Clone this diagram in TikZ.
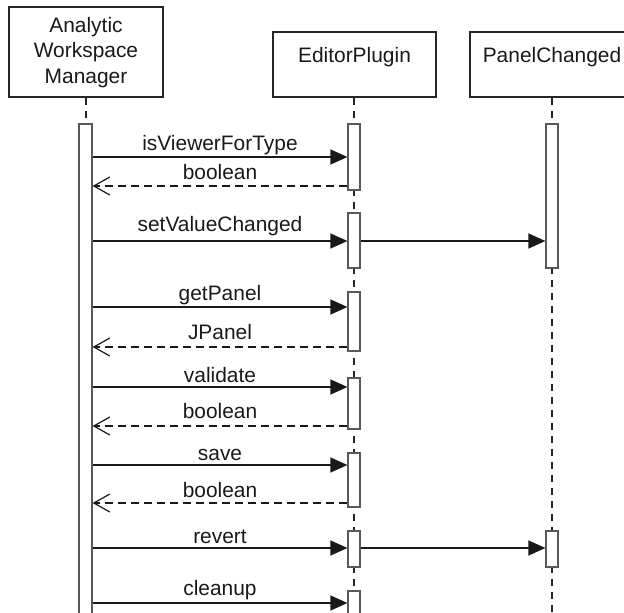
\documentclass[tikz,border=0pt]{standalone}
\usepackage{fontspec}
\setmainfont{Liberation Sans}
\usetikzlibrary{arrows.meta}
\newcommand\actbar[5]{\node[actbox, minimum width=#3bp, minimum height={(#5-#4)*1bp}] (#1) at (#2,{(#4+#5)/2}) {};}
\begin{document}
\begin{tikzpicture}[x=1bp,y=-1bp,
  font=\fontsize{21}{25.5}\selectfont,
  headbox/.style={draw=black!85, line width=1.2bp, fill=white, inner sep=0, rectangle},
  lifeline/.style={draw=black!85, dash pattern=on 7bp off 6bp, line width=1.2bp},
  actbox/.style={draw=black!65, fill=white, line width=1.2bp, inner sep=0, rectangle},
  callarrow/.style={draw=black!90, line width=1.3bp, -{Triangle[length=17bp,width=15bp]}},
  retarrow/.style={draw=black!90, line width=1.2bp, dash pattern=on 8bp off 5bp, -{Straight Barb[length=16bp,width=18bp]}},
  lbl/.style={anchor=base, text=black!90, inner sep=0}]
\useasboundingbox (0,0) rectangle (624,613);
% heads
\node[headbox, minimum width=154bp, minimum height=90bp] (awm) at (86,52) {};
\node[text=black!90, align=center, inner sep=0] (awmtxt) at (86,52.5) {Analytic\\Workspace\\Manager};
\node[headbox, minimum width=163bp, minimum height=65bp] (ep) at (354.5,64.5) {};
\node[lbl] (eptxt) at (354.5,63) {EditorPlugin};
\node[headbox, minimum width=164bp, minimum height=65bp] (pc) at (552,64.5) {};
\node[lbl] (pctxt) at (552,63) {PanelChanged};
% lifeline ends
\coordinate (awmtop) at (86,124);
\coordinate (epbot) at (354,640);
\coordinate (pcbot) at (552,640);
\draw[lifeline] (awm.south -| awmtop) -- (awmtop);
\draw[lifeline] (ep.south -| epbot) -- (epbot);
\draw[lifeline] (pc.south -| pcbot) -- (pcbot);
% activations
\actbar{awmact}{85.5}{13}{124}{640}
\actbar{epa}{354}{12}{124}{190}
\actbar{epb}{354}{12}{213}{268}
\actbar{epc}{354}{12}{292}{351}
\actbar{epd}{354}{12}{378}{429}
\actbar{epe}{354}{12}{453}{507}
\actbar{epf}{354}{12}{531}{567}
\actbar{epg}{354}{12}{591}{640}
\actbar{pca}{552}{12}{124}{268}
\actbar{pcb}{552}{12}{531}{567}
% message levels
\coordinate (y1) at (0,157);
\coordinate (y2) at (0,186);
\coordinate (y3) at (0,241);
\coordinate (y4) at (0,307);
\coordinate (y5) at (0,347);
\coordinate (y6) at (0,387);
\coordinate (y7) at (0,426);
\coordinate (y8) at (0,465);
\coordinate (y9) at (0,503);
\coordinate (y10) at (0,548);
\coordinate (y11) at (0,603);
% messages
\draw[callarrow] (awmact.east |- y1) -- (epa.west |- y1);
\draw[retarrow] (epa.west |- y2) -- (awmact.east |- y2);
\draw[callarrow] (awmact.east |- y3) -- (epb.west |- y3);
\draw[callarrow] (epb.east |- y3) -- (pca.west |- y3);
\draw[callarrow] (awmact.east |- y4) -- (epc.west |- y4);
\draw[retarrow] (epc.west |- y5) -- (awmact.east |- y5);
\draw[callarrow] (awmact.east |- y6) -- (epd.west |- y6);
\draw[retarrow] (epd.west |- y7) -- (awmact.east |- y7);
\draw[callarrow] (awmact.east |- y8) -- (epe.west |- y8);
\draw[retarrow] (epe.west |- y9) -- (awmact.east |- y9);
\draw[callarrow] (awmact.east |- y10) -- (epf.west |- y10);
\draw[callarrow] (epf.east |- y10) -- (pcb.west |- y10);
\draw[callarrow] (awmact.east |- y11) -- (epg.west |- y11);
% labels
\node[lbl] (l1) at (220,151) {isViewerForType};
\node[lbl] (l2) at (220,180) {boolean};
\node[lbl] (l3) at (220,231) {setValueChanged};
\node[lbl] (l4) at (220,300) {getPanel};
\node[lbl] (l5) at (220,339) {JPanel};
\node[lbl] (l6) at (220,382) {validate};
\node[lbl] (l7) at (220,418) {boolean};
\node[lbl] (l8) at (220,460) {save};
\node[lbl] (l9) at (220,497) {boolean};
\node[lbl] (l10) at (220,543) {revert};
\node[lbl] (l11) at (220,595) {cleanup};
\end{tikzpicture}
\end{document}
